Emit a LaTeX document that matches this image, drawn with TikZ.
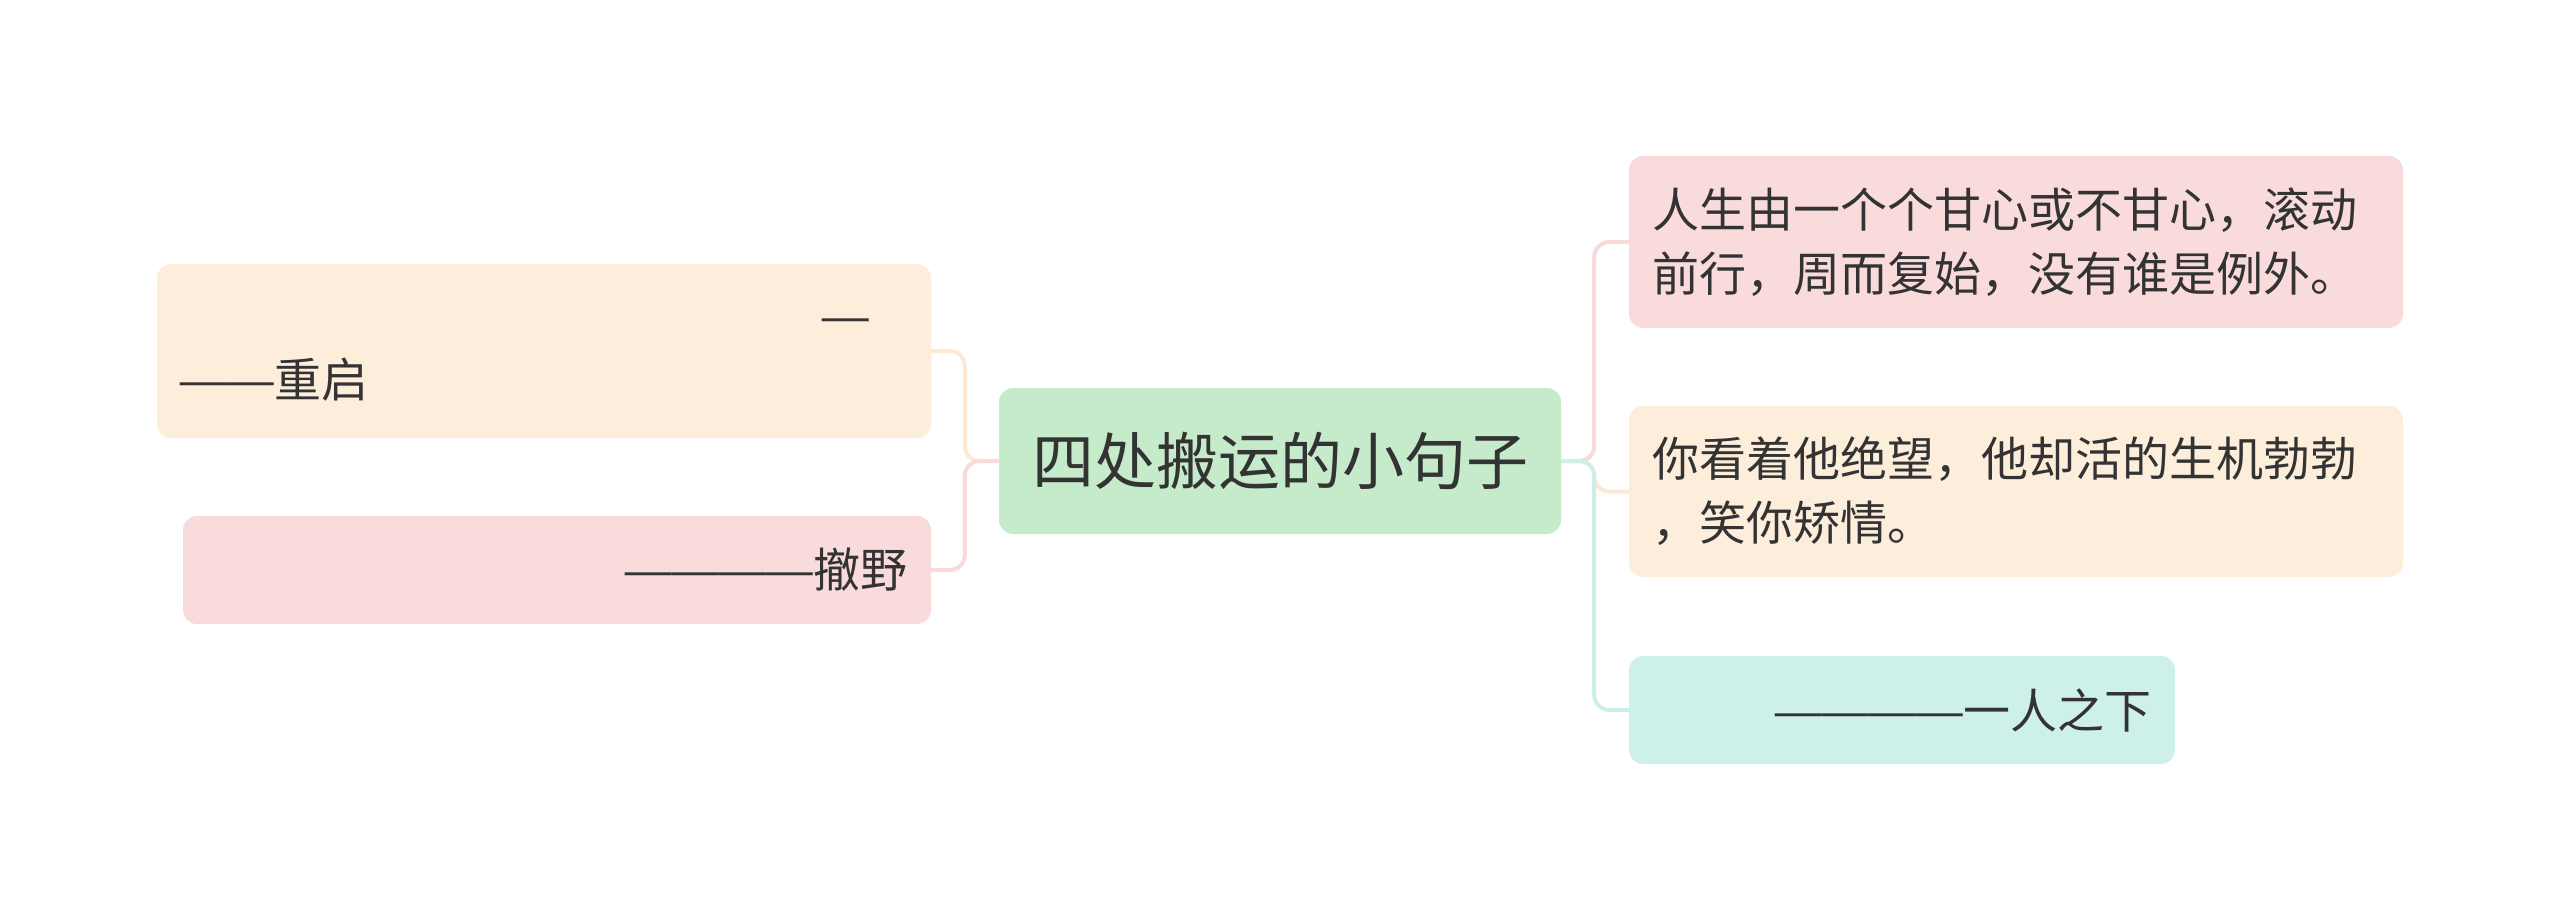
\documentclass[tikz,border=0pt]{standalone}
\usepackage{graphicx}
\usepackage{fontspec}
\setmainfont{Noto Sans CJK SC}
\definecolor{txt}{HTML}{333333}
\definecolor{cgreen}{HTML}{C5EBCB}
\definecolor{cpink}{HTML}{FADBDB}
\definecolor{cpeach}{HTML}{FDEEDC}
\definecolor{cmint}{HTML}{CEF0EA}
\definecolor{lpink}{HTML}{F9D9D9}
\definecolor{lpeach}{HTML}{FDE9D6}
\definecolor{lmint}{HTML}{CDEFEA}
\newcommand\mydash{\makebox[1em][c]{\scalebox{1.25}[1]{—}}}
\begin{document}
\begin{tikzpicture}[x=1pt,y=-1pt,
  box/.style={rectangle, rounded corners=14pt, draw=none, text=txt, inner xsep=0pt, inner ysep=0pt},
  small/.style={font=\fontsize{47}{64}\selectfont},
  conn/.style={line width=4pt, rounded corners=15pt}]
\useasboundingbox[fill=white] (0,0) rectangle (2560,921);
% central topic
\node[box, fill=cgreen, minimum width=562pt, minimum height=146pt, font=\fontsize{62}{74}\selectfont] (c) at (1280,461) {四处搬运的小句子};
% left
\node[box, fill=cpeach, minimum width=774pt, minimum height=174pt, small] (l1) at (544,351)
  {\parbox{728pt}{\raggedright\vspace*{18pt}\hspace*{642pt}\mydash\\\mydash\mydash 重启}};
\node[box, fill=cpink, minimum width=748pt, minimum height=108pt, small, text width=700pt, align=right] (l2) at (557,570)
  {\mydash\mydash\mydash\mydash 撤野};
% right
\node[box, fill=cpink, minimum width=774pt, minimum height=172pt, small, text width=728pt, align=left] (r1) at (2016,242)
  {人生由一个个甘心或不甘心，滚动\\前行，周而复始，没有谁是例外。};
\node[box, fill=cpeach, minimum width=774pt, minimum height=171pt, small, text width=728pt, align=left] (r2) at (2016,491.5)
  {你看着他绝望，他却活的生机勃勃\\，笑你矫情。};
\node[box, fill=cmint, minimum width=546pt, minimum height=108pt, small, text width=498pt, align=right] (r3) at (1902,710)
  {\mydash\mydash\mydash\mydash 一人之下};
% connectors
\draw[conn, lpeach] (c.west) -- ++(-34,0) |- (l1.east);
\draw[conn, lpink] (c.west) -- ++(-34,0) |- (l2.east);
\draw[conn, lpink] (c.east) -- ++(33,0) |- (r1.west);
\draw[conn, lpeach] (c.east) -- ++(33,0) |- (r2.west);
\draw[conn, lmint] (c.east) -- ++(33,0) |- (r3.west);
\end{tikzpicture}
\end{document}
